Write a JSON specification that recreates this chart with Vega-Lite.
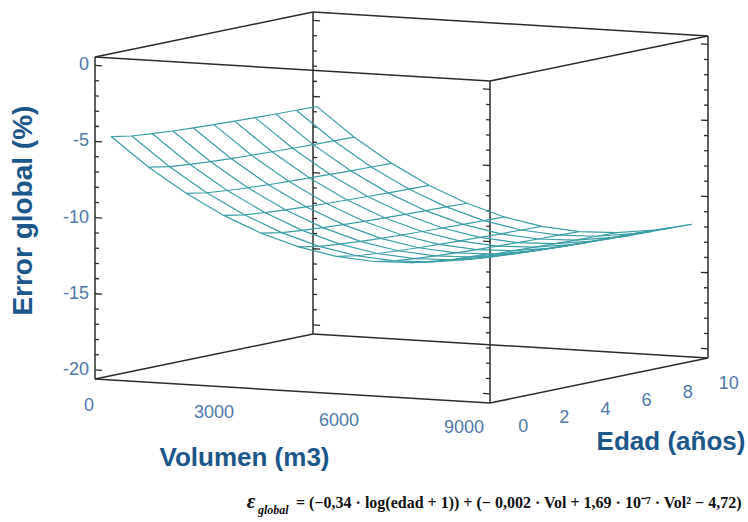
{
  "$schema": "https://vega.github.io/schema/vega-lite/v6.json",
  "width": 748,
  "height": 522,
  "autosize": "none",
  "padding": 0,
  "background": "white",
  "config": {"view": {"stroke": null}, "font": "Liberation Sans"},
  "datasets": {
    "surface": [
      {"v":0,"e":0,"z":-4.72},{"v":0,"e":1,"z":-4.96},{"v":0,"e":2,"z":-5.09},{"v":0,"e":3,"z":-5.19},{"v":0,"e":4,"z":-5.27},{"v":0,"e":5,"z":-5.33},{"v":0,"e":6,"z":-5.38},{"v":0,"e":7,"z":-5.43},{"v":0,"e":8,"z":-5.47},{"v":0,"e":9,"z":-5.50},{"v":0,"e":10,"z":-5.54},
      {"v":900,"e":0,"z":-6.58},{"v":900,"e":1,"z":-6.82},{"v":900,"e":2,"z":-6.95},{"v":900,"e":3,"z":-7.05},{"v":900,"e":4,"z":-7.13},{"v":900,"e":5,"z":-7.19},{"v":900,"e":6,"z":-7.24},{"v":900,"e":7,"z":-7.29},{"v":900,"e":8,"z":-7.33},{"v":900,"e":9,"z":-7.36},{"v":900,"e":10,"z":-7.40},
      {"v":1800,"e":0,"z":-8.15},{"v":1800,"e":1,"z":-8.39},{"v":1800,"e":2,"z":-8.52},{"v":1800,"e":3,"z":-8.62},{"v":1800,"e":4,"z":-8.70},{"v":1800,"e":5,"z":-8.76},{"v":1800,"e":6,"z":-8.81},{"v":1800,"e":7,"z":-8.86},{"v":1800,"e":8,"z":-8.90},{"v":1800,"e":9,"z":-8.93},{"v":1800,"e":10,"z":-8.97},
      {"v":2700,"e":0,"z":-9.45},{"v":2700,"e":1,"z":-9.69},{"v":2700,"e":2,"z":-9.82},{"v":2700,"e":3,"z":-9.92},{"v":2700,"e":4,"z":-10.00},{"v":2700,"e":5,"z":-10.06},{"v":2700,"e":6,"z":-10.11},{"v":2700,"e":7,"z":-10.16},{"v":2700,"e":8,"z":-10.20},{"v":2700,"e":9,"z":-10.23},{"v":2700,"e":10,"z":-10.27},
      {"v":3600,"e":0,"z":-10.47},{"v":3600,"e":1,"z":-10.71},{"v":3600,"e":2,"z":-10.84},{"v":3600,"e":3,"z":-10.94},{"v":3600,"e":4,"z":-11.02},{"v":3600,"e":5,"z":-11.08},{"v":3600,"e":6,"z":-11.13},{"v":3600,"e":7,"z":-11.18},{"v":3600,"e":8,"z":-11.22},{"v":3600,"e":9,"z":-11.25},{"v":3600,"e":10,"z":-11.29},
      {"v":4500,"e":0,"z":-11.22},{"v":4500,"e":1,"z":-11.46},{"v":4500,"e":2,"z":-11.59},{"v":4500,"e":3,"z":-11.69},{"v":4500,"e":4,"z":-11.77},{"v":4500,"e":5,"z":-11.83},{"v":4500,"e":6,"z":-11.88},{"v":4500,"e":7,"z":-11.93},{"v":4500,"e":8,"z":-11.97},{"v":4500,"e":9,"z":-12.00},{"v":4500,"e":10,"z":-12.04},
      {"v":5400,"e":0,"z":-11.69},{"v":5400,"e":1,"z":-11.93},{"v":5400,"e":2,"z":-12.06},{"v":5400,"e":3,"z":-12.16},{"v":5400,"e":4,"z":-12.24},{"v":5400,"e":5,"z":-12.30},{"v":5400,"e":6,"z":-12.35},{"v":5400,"e":7,"z":-12.40},{"v":5400,"e":8,"z":-12.44},{"v":5400,"e":9,"z":-12.47},{"v":5400,"e":10,"z":-12.51},
      {"v":6300,"e":0,"z":-11.88},{"v":6300,"e":1,"z":-12.12},{"v":6300,"e":2,"z":-12.25},{"v":6300,"e":3,"z":-12.35},{"v":6300,"e":4,"z":-12.43},{"v":6300,"e":5,"z":-12.49},{"v":6300,"e":6,"z":-12.54},{"v":6300,"e":7,"z":-12.59},{"v":6300,"e":8,"z":-12.63},{"v":6300,"e":9,"z":-12.66},{"v":6300,"e":10,"z":-12.70},
      {"v":7200,"e":0,"z":-11.80},{"v":7200,"e":1,"z":-12.04},{"v":7200,"e":2,"z":-12.17},{"v":7200,"e":3,"z":-12.27},{"v":7200,"e":4,"z":-12.35},{"v":7200,"e":5,"z":-12.41},{"v":7200,"e":6,"z":-12.46},{"v":7200,"e":7,"z":-12.51},{"v":7200,"e":8,"z":-12.55},{"v":7200,"e":9,"z":-12.58},{"v":7200,"e":10,"z":-12.62},
      {"v":8100,"e":0,"z":-11.48},{"v":8100,"e":1,"z":-11.72},{"v":8100,"e":2,"z":-11.85},{"v":8100,"e":3,"z":-11.95},{"v":8100,"e":4,"z":-12.03},{"v":8100,"e":5,"z":-12.09},{"v":8100,"e":6,"z":-12.14},{"v":8100,"e":7,"z":-12.19},{"v":8100,"e":8,"z":-12.23},{"v":8100,"e":9,"z":-12.26},{"v":8100,"e":10,"z":-12.30},
      {"v":9000,"e":0,"z":-10.95},{"v":9000,"e":1,"z":-11.19},{"v":9000,"e":2,"z":-11.32},{"v":9000,"e":3,"z":-11.42},{"v":9000,"e":4,"z":-11.50},{"v":9000,"e":5,"z":-11.56},{"v":9000,"e":6,"z":-11.61},{"v":9000,"e":7,"z":-11.66},{"v":9000,"e":8,"z":-11.70},{"v":9000,"e":9,"z":-11.73},{"v":9000,"e":10,"z":-11.77}
    ],
    "box": [
      {"v":-240,"e":-0.3,"z":-20.6,"v2":9240,"e2":-0.3,"z2":-20.6},
      {"v":-240,"e":10.3,"z":-20.6,"v2":9240,"e2":10.3,"z2":-20.6},
      {"v":-240,"e":-0.3,"z":0.55,"v2":9240,"e2":-0.3,"z2":0.55},
      {"v":-240,"e":10.3,"z":0.55,"v2":9240,"e2":10.3,"z2":0.55},
      {"v":-240,"e":-0.3,"z":-20.6,"v2":-240,"e2":10.3,"z2":-20.6},
      {"v":9240,"e":-0.3,"z":-20.6,"v2":9240,"e2":10.3,"z2":-20.6},
      {"v":-240,"e":-0.3,"z":0.55,"v2":-240,"e2":10.3,"z2":0.55},
      {"v":9240,"e":-0.3,"z":0.55,"v2":9240,"e2":10.3,"z2":0.55},
      {"v":-240,"e":-0.3,"z":-20.6,"v2":-240,"e2":-0.3,"z2":0.55},
      {"v":9240,"e":-0.3,"z":-20.6,"v2":9240,"e2":-0.3,"z2":0.55},
      {"v":-240,"e":10.3,"z":-20.6,"v2":-240,"e2":10.3,"z2":0.55},
      {"v":9240,"e":10.3,"z":-20.6,"v2":9240,"e2":10.3,"z2":0.55}
    ],
    "zt": [
      {"z":-20},{"z":-19},{"z":-18},{"z":-17},{"z":-16},{"z":-15},{"z":-14},{"z":-13},{"z":-12},{"z":-11},{"z":-10},
      {"z":-9},{"z":-8},{"z":-7},{"z":-6},{"z":-5},{"z":-4},{"z":-3},{"z":-2},{"z":-1},{"z":0}
    ],
    "zlabels": [
      {"z":0,"label":"0"},{"z":-5,"label":"-5"},{"z":-10,"label":"-10"},{"z":-15,"label":"-15"},{"z":-20,"label":"-20"}
    ],
    "vlabels": [
      {"v":0,"label":"0"},{"v":3000,"label":"3000"},{"v":6000,"label":"6000"},{"v":9000,"label":"9000"}
    ],
    "elabels": [
      {"e":0,"label":"0"},{"e":2,"label":"2"},{"e":4,"label":"4"},{"e":6,"label":"6"},{"e":8,"label":"8"},{"e":10,"label":"10"}
    ]
  },
  "layer": [
    {
      "data": {"name": "box"},
      "transform": [
        {"calculate": "95 + 395*(datum.v+240)/9480 + 218*(datum.e+0.3)/10.6", "as": "px"},
        {"calculate": "379 + 24*(datum.v+240)/9480 - 45*(datum.e+0.3)/10.6 - 322*(datum.z+20.6)/21.15", "as": "py"},
        {"calculate": "95 + 395*(datum.v2+240)/9480 + 218*(datum.e2+0.3)/10.6", "as": "px2"},
        {"calculate": "379 + 24*(datum.v2+240)/9480 - 45*(datum.e2+0.3)/10.6 - 322*(datum.z2+20.6)/21.15", "as": "py2"}
      ],
      "mark": {"type": "rule", "color": "#2b2b2b", "strokeWidth": 1.5},
      "encoding": {
        "x": {"field": "px", "type": "quantitative", "scale": {"domain": [0, 748], "nice": false, "zero": false}, "axis": null},
        "y": {"field": "py", "type": "quantitative", "scale": {"domain": [0, 522], "nice": false, "zero": false, "reverse": true}, "axis": null},
        "x2": {"field": "px2"},
        "y2": {"field": "py2"}
      }
    },
    {
      "data": {"name": "zt"},
      "transform": [
        {"calculate": "-240", "as": "v"},
        {"calculate": "-0.3", "as": "e"},
        {"calculate": "datum.v + (datum.z % 5 == 0 ? 170 : 95)", "as": "v2"},
        {"calculate": "95 + 395*(datum.v+240)/9480 + 218*(datum.e+0.3)/10.6", "as": "px"},
        {"calculate": "379 + 24*(datum.v+240)/9480 - 45*(datum.e+0.3)/10.6 - 322*(datum.z+20.6)/21.15", "as": "py"},
        {"calculate": "95 + 395*(datum.v2+240)/9480 + 218*(datum.e+0.3)/10.6", "as": "px2"},
        {"calculate": "379 + 24*(datum.v2+240)/9480 - 45*(datum.e+0.3)/10.6 - 322*(datum.z+20.6)/21.15", "as": "py2"}
      ],
      "mark": {"type": "rule", "color": "#2b2b2b", "strokeWidth": 1.3},
      "encoding": {
        "x": {"field": "px", "type": "quantitative", "scale": {"domain": [0, 748], "nice": false, "zero": false}, "axis": null},
        "y": {"field": "py", "type": "quantitative", "scale": {"domain": [0, 522], "nice": false, "zero": false, "reverse": true}, "axis": null},
        "x2": {"field": "px2"},
        "y2": {"field": "py2"}
      }
    },
    {
      "data": {"name": "zt"},
      "transform": [
        {"calculate": "-240", "as": "v"},
        {"calculate": "10.3", "as": "e"},
        {"calculate": "datum.v + (datum.z % 5 == 0 ? 170 : 95)", "as": "v2"},
        {"calculate": "95 + 395*(datum.v+240)/9480 + 218*(datum.e+0.3)/10.6", "as": "px"},
        {"calculate": "379 + 24*(datum.v+240)/9480 - 45*(datum.e+0.3)/10.6 - 322*(datum.z+20.6)/21.15", "as": "py"},
        {"calculate": "95 + 395*(datum.v2+240)/9480 + 218*(datum.e+0.3)/10.6", "as": "px2"},
        {"calculate": "379 + 24*(datum.v2+240)/9480 - 45*(datum.e+0.3)/10.6 - 322*(datum.z+20.6)/21.15", "as": "py2"}
      ],
      "mark": {"type": "rule", "color": "#2b2b2b", "strokeWidth": 1.3},
      "encoding": {
        "x": {"field": "px", "type": "quantitative", "scale": {"domain": [0, 748], "nice": false, "zero": false}, "axis": null},
        "y": {"field": "py", "type": "quantitative", "scale": {"domain": [0, 522], "nice": false, "zero": false, "reverse": true}, "axis": null},
        "x2": {"field": "px2"},
        "y2": {"field": "py2"}
      }
    },
    {
      "data": {"name": "zt"},
      "transform": [
        {"calculate": "9240", "as": "v"},
        {"calculate": "-0.3", "as": "e"},
        {"calculate": "datum.v - (datum.z % 5 == 0 ? 170 : 95)", "as": "v2"},
        {"calculate": "95 + 395*(datum.v+240)/9480 + 218*(datum.e+0.3)/10.6", "as": "px"},
        {"calculate": "379 + 24*(datum.v+240)/9480 - 45*(datum.e+0.3)/10.6 - 322*(datum.z+20.6)/21.15", "as": "py"},
        {"calculate": "95 + 395*(datum.v2+240)/9480 + 218*(datum.e+0.3)/10.6", "as": "px2"},
        {"calculate": "379 + 24*(datum.v2+240)/9480 - 45*(datum.e+0.3)/10.6 - 322*(datum.z+20.6)/21.15", "as": "py2"}
      ],
      "mark": {"type": "rule", "color": "#2b2b2b", "strokeWidth": 1.3},
      "encoding": {
        "x": {"field": "px", "type": "quantitative", "scale": {"domain": [0, 748], "nice": false, "zero": false}, "axis": null},
        "y": {"field": "py", "type": "quantitative", "scale": {"domain": [0, 522], "nice": false, "zero": false, "reverse": true}, "axis": null},
        "x2": {"field": "px2"},
        "y2": {"field": "py2"}
      }
    },
    {
      "data": {"name": "zt"},
      "transform": [
        {"calculate": "9240", "as": "v"},
        {"calculate": "10.3", "as": "e"},
        {"calculate": "datum.v - (datum.z % 5 == 0 ? 170 : 95)", "as": "v2"},
        {"calculate": "95 + 395*(datum.v+240)/9480 + 218*(datum.e+0.3)/10.6", "as": "px"},
        {"calculate": "379 + 24*(datum.v+240)/9480 - 45*(datum.e+0.3)/10.6 - 322*(datum.z+20.6)/21.15", "as": "py"},
        {"calculate": "95 + 395*(datum.v2+240)/9480 + 218*(datum.e+0.3)/10.6", "as": "px2"},
        {"calculate": "379 + 24*(datum.v2+240)/9480 - 45*(datum.e+0.3)/10.6 - 322*(datum.z+20.6)/21.15", "as": "py2"}
      ],
      "mark": {"type": "rule", "color": "#2b2b2b", "strokeWidth": 1.3},
      "encoding": {
        "x": {"field": "px", "type": "quantitative", "scale": {"domain": [0, 748], "nice": false, "zero": false}, "axis": null},
        "y": {"field": "py", "type": "quantitative", "scale": {"domain": [0, 522], "nice": false, "zero": false, "reverse": true}, "axis": null},
        "x2": {"field": "px2"},
        "y2": {"field": "py2"}
      }
    },
    {
      "data": {"name": "surface"},
      "transform": [
        {"calculate": "95 + 395*(datum.v+240)/9480 + 218*(datum.e+0.3)/10.6", "as": "px"},
        {"calculate": "379 + 24*(datum.v+240)/9480 - 45*(datum.e+0.3)/10.6 - 322*(datum.z+20.6)/21.15", "as": "py"}
      ],
      "mark": {"type": "line", "color": "#3a9ea6", "strokeWidth": 1.2},
      "encoding": {
        "x": {"field": "px", "type": "quantitative", "scale": {"domain": [0, 748], "nice": false, "zero": false}, "axis": null},
        "y": {"field": "py", "type": "quantitative", "scale": {"domain": [0, 522], "nice": false, "zero": false, "reverse": true}, "axis": null},
        "detail": {"field": "e", "type": "nominal"},
        "order": {"field": "v", "type": "quantitative"}
      }
    },
    {
      "data": {"name": "surface"},
      "transform": [
        {"calculate": "95 + 395*(datum.v+240)/9480 + 218*(datum.e+0.3)/10.6", "as": "px"},
        {"calculate": "379 + 24*(datum.v+240)/9480 - 45*(datum.e+0.3)/10.6 - 322*(datum.z+20.6)/21.15", "as": "py"}
      ],
      "mark": {"type": "line", "color": "#3a9ea6", "strokeWidth": 1.2},
      "encoding": {
        "x": {"field": "px", "type": "quantitative", "scale": {"domain": [0, 748], "nice": false, "zero": false}, "axis": null},
        "y": {"field": "py", "type": "quantitative", "scale": {"domain": [0, 522], "nice": false, "zero": false, "reverse": true}, "axis": null},
        "detail": {"field": "v", "type": "nominal"},
        "order": {"field": "e", "type": "quantitative"}
      }
    },
    {
      "data": {"name": "zlabels"},
      "transform": [
        {"calculate": "95", "as": "px"},
        {"calculate": "379 - 322*(datum.z+20.6)/21.15", "as": "py"}
      ],
      "mark": {"type": "text", "align": "right", "baseline": "middle", "dx": -6, "fontSize": 18, "color": "#4f78aa"},
      "encoding": {
        "x": {"field": "px", "type": "quantitative", "scale": {"domain": [0, 748], "nice": false, "zero": false}, "axis": null},
        "y": {"field": "py", "type": "quantitative", "scale": {"domain": [0, 522], "nice": false, "zero": false, "reverse": true}, "axis": null},
        "text": {"field": "label", "type": "nominal"}
      }
    },
    {
      "data": {"name": "vlabels"},
      "transform": [
        {"calculate": "95 + 395*(datum.v+240)/9480", "as": "px"},
        {"calculate": "379 + 24*(datum.v+240)/9480", "as": "py"}
      ],
      "mark": {"type": "text", "align": "center", "baseline": "middle", "dx": -16, "dy": 26, "fontSize": 18, "color": "#4f78aa"},
      "encoding": {
        "x": {"field": "px", "type": "quantitative", "scale": {"domain": [0, 748], "nice": false, "zero": false}, "axis": null},
        "y": {"field": "py", "type": "quantitative", "scale": {"domain": [0, 522], "nice": false, "zero": false, "reverse": true}, "axis": null},
        "text": {"field": "label", "type": "nominal"}
      }
    },
    {
      "data": {"name": "elabels"},
      "transform": [
        {"calculate": "490 + 218*(datum.e+0.3)/10.6", "as": "px"},
        {"calculate": "403 - 45*(datum.e+0.3)/10.6", "as": "py"}
      ],
      "mark": {"type": "text", "align": "center", "baseline": "middle", "dx": 27, "dy": 25, "fontSize": 18, "color": "#4f78aa"},
      "encoding": {
        "x": {"field": "px", "type": "quantitative", "scale": {"domain": [0, 748], "nice": false, "zero": false}, "axis": null},
        "y": {"field": "py", "type": "quantitative", "scale": {"domain": [0, 522], "nice": false, "zero": false, "reverse": true}, "axis": null},
        "text": {"field": "label", "type": "nominal"}
      }
    },
    {
      "data": {"values": [{"label": "Volumen (m3)", "v": 4500, "e": -0.3, "z": -20.6}]},
      "transform": [
        {"calculate": "95 + 395*(datum.v+240)/9480 + 218*(datum.e+0.3)/10.6", "as": "px"},
        {"calculate": "379 + 24*(datum.v+240)/9480 - 45*(datum.e+0.3)/10.6 - 322*(datum.z+20.6)/21.15", "as": "py"}
      ],
      "mark": {"type": "text", "align": "center", "baseline": "middle", "dx": -48, "dy": 67, "fontSize": 26, "fontWeight": "bold", "color": "#1c578a"},
      "encoding": {
        "x": {"field": "px", "type": "quantitative", "scale": {"domain": [0, 748], "nice": false, "zero": false}, "axis": null},
        "y": {"field": "py", "type": "quantitative", "scale": {"domain": [0, 522], "nice": false, "zero": false, "reverse": true}, "axis": null},
        "text": {"field": "label", "type": "nominal"}
      }
    },
    {
      "data": {"values": [{"label": "Edad (años)", "v": 9240, "e": 5, "z": -20.6}]},
      "transform": [
        {"calculate": "95 + 395*(datum.v+240)/9480 + 218*(datum.e+0.3)/10.6", "as": "px"},
        {"calculate": "379 + 24*(datum.v+240)/9480 - 45*(datum.e+0.3)/10.6 - 322*(datum.z+20.6)/21.15", "as": "py"}
      ],
      "mark": {"type": "text", "align": "center", "baseline": "middle", "dx": 72, "dy": 61, "fontSize": 26, "fontWeight": "bold", "color": "#1c578a"},
      "encoding": {
        "x": {"field": "px", "type": "quantitative", "scale": {"domain": [0, 748], "nice": false, "zero": false}, "axis": null},
        "y": {"field": "py", "type": "quantitative", "scale": {"domain": [0, 522], "nice": false, "zero": false, "reverse": true}, "axis": null},
        "text": {"field": "label", "type": "nominal"}
      }
    },
    {
      "data": {"values": [{"label": "Error global (%)", "v": -240, "e": -0.3, "z": -10}]},
      "transform": [
        {"calculate": "95 + 395*(datum.v+240)/9480 + 218*(datum.e+0.3)/10.6", "as": "px"},
        {"calculate": "379 + 24*(datum.v+240)/9480 - 45*(datum.e+0.3)/10.6 - 322*(datum.z+20.6)/21.15", "as": "py"}
      ],
      "mark": {"type": "text", "align": "center", "baseline": "middle", "angle": 270, "dx": 7, "dy": -71, "fontSize": 28, "fontWeight": "bold", "color": "#1c578a"},
      "encoding": {
        "x": {"field": "px", "type": "quantitative", "scale": {"domain": [0, 748], "nice": false, "zero": false}, "axis": null},
        "y": {"field": "py", "type": "quantitative", "scale": {"domain": [0, 522], "nice": false, "zero": false, "reverse": true}, "axis": null},
        "text": {"field": "label", "type": "nominal"}
      }
    },
    {
      "data": {"values": [{"t": "ε"}]},
      "mark": {"type": "text", "align": "center", "baseline": "middle", "font": "Liberation Serif", "fontSize": 21, "fontStyle": "italic", "fontWeight": "bold", "color": "#111111"},
      "encoding": {
        "x": {"datum": 251, "type": "quantitative", "scale": {"domain": [0, 748], "nice": false, "zero": false}, "axis": null},
        "y": {"datum": 502, "type": "quantitative", "scale": {"domain": [0, 522], "nice": false, "zero": false, "reverse": true}, "axis": null},
        "text": {"field": "t", "type": "nominal"}
      }
    },
    {
      "data": {"values": [{"t": "global"}]},
      "mark": {"type": "text", "align": "left", "baseline": "middle", "font": "Liberation Serif", "fontSize": 12, "fontStyle": "italic", "fontWeight": "bold", "color": "#111111"},
      "encoding": {
        "x": {"datum": 258, "type": "quantitative", "scale": {"domain": [0, 748], "nice": false, "zero": false}, "axis": null},
        "y": {"datum": 510, "type": "quantitative", "scale": {"domain": [0, 522], "nice": false, "zero": false, "reverse": true}, "axis": null},
        "text": {"field": "t", "type": "nominal"}
      }
    },
    {
      "data": {"values": [{"t": "= (−0,34 · log(edad + 1)) + (− 0,002 · Vol + 1,69 · 10⁻⁷ · Vol² − 4,72)"}]},
      "mark": {"type": "text", "align": "left", "baseline": "middle", "font": "Liberation Serif", "fontSize": 16, "fontWeight": "bold", "color": "#111111"},
      "encoding": {
        "x": {"datum": 296, "type": "quantitative", "scale": {"domain": [0, 748], "nice": false, "zero": false}, "axis": null},
        "y": {"datum": 503, "type": "quantitative", "scale": {"domain": [0, 522], "nice": false, "zero": false, "reverse": true}, "axis": null},
        "text": {"field": "t", "type": "nominal"}
      }
    }
  ]
}
